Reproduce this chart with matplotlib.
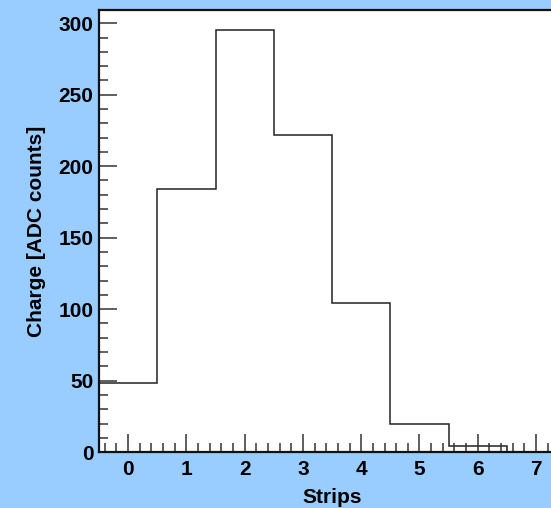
import numpy as np
import matplotlib.pyplot as plt
from matplotlib.ticker import MultipleLocator

plt.rcParams['font.family'] = ['Liberation Sans', 'DejaVu Sans']
plt.rcParams['font.weight'] = 'bold'

# charge per strip
strips = [0, 1, 2, 3, 4, 5, 6, 7]
charge = [48, 184, 295, 222, 104, 20, 4, 0]

edges = np.arange(len(strips) + 1) - 0.5

fig = plt.figure(figsize=(5.51, 5.08), dpi=100, facecolor='#99ccff')
ax = fig.add_axes([0.1797, 0.110, 0.846, 0.871])
ax.set_facecolor('white')

ax.stairs(charge, edges, baseline=None, color='#222222', linewidth=1.1)

ax.set_xlim(-0.5, 7.5)
ax.set_ylim(0, 309.5)

ax.xaxis.set_major_locator(MultipleLocator(1))
ax.xaxis.set_minor_locator(MultipleLocator(0.2))
ax.yaxis.set_major_locator(MultipleLocator(50))
ax.yaxis.set_minor_locator(MultipleLocator(10))
ax.tick_params(which='both', direction='in', top=False, right=False,
               labelsize=15, width=1.1, color='#333333')
ax.tick_params(which='major', length=13)
ax.tick_params(axis='x', which='major', pad=6)
ax.tick_params(axis='y', which='major', pad=4)
ax.tick_params(which='minor', length=6.5)
for lab in ax.get_xticklabels() + ax.get_yticklabels():
    lab.set_fontweight('bold')

for sp in ax.spines.values():
    sp.set_linewidth(1.6)
    sp.set_color('#111111')

ax.set_xlabel('Strips', fontsize=15, fontweight='bold', labelpad=6)
ax.set_ylabel('Charge [ADC counts]', fontsize=15, fontweight='bold', labelpad=9)

fig.savefig('out.png', dpi=100, facecolor=fig.get_facecolor())
